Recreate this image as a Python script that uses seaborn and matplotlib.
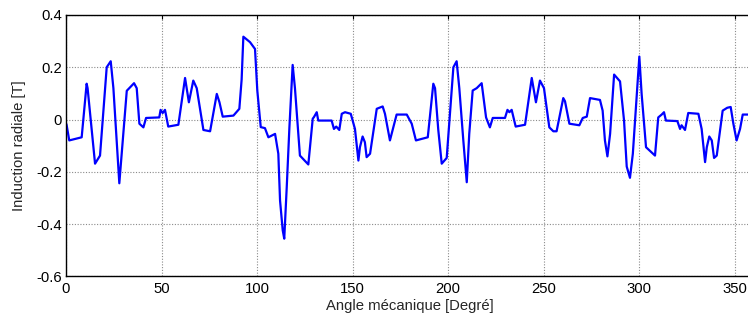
import numpy as np
import pandas as pd
import matplotlib
matplotlib.use("Agg")
import matplotlib.pyplot as plt
import seaborn as sns

# Radial flux density along the air gap (mechanical angle in degrees, induction in tesla)
angle = [0.0, 0.3, 1.7, 8.2, 10.8, 11.3, 15.2, 17.8, 21.3, 23.4, 24.8, 27.9, 31.8, 35.6, 37.0,
         38.4, 40.5, 41.9, 48.8, 49.5, 50.6, 51.8, 53.5, 58.8, 62.3, 64.3, 66.6, 68.4, 71.9,
         75.4, 78.9, 80.3, 82.0, 87.6, 90.7, 91.9, 92.8, 96.3, 98.9, 100.1, 101.9, 104.1, 105.9,
         109.4, 111.1, 112.0, 113.4, 114.2, 115.5, 116.9, 118.6, 119.8, 122.4, 126.8, 129.1,
         129.8, 131.2, 132.0, 139.0, 140.2, 141.4, 143.0, 144.3, 146.0, 149.0, 151.2, 153.0,
         153.8, 155.2, 156.4, 157.3, 159.1, 160.8, 162.6, 165.7, 166.9, 169.5, 171.3, 173.0,
         178.3, 180.9, 183.1, 189.3, 192.2, 193.1, 194.8, 196.6, 199.2, 202.7, 204.4, 205.8,
         207.9, 209.7, 211.0, 212.8, 214.9, 217.5, 219.8, 221.0, 221.8, 223.3, 229.7, 231.0,
         232.0, 233.2, 235.3, 240.2, 243.7, 245.9, 248.0, 250.1, 252.9, 255.0, 256.7, 260.2,
         261.1, 263.4, 268.6, 270.4, 272.5, 274.2, 279.4, 280.8, 282.0, 283.3, 284.7, 286.8,
         289.9, 292.0, 293.4, 295.1, 296.6, 298.6, 300.0, 301.2, 303.5, 308.2, 309.9, 311.7,
         312.9, 313.9, 319.9, 321.3, 322.1, 323.9, 325.6, 330.9, 332.6, 334.4, 335.3, 336.6,
         337.9, 339.1, 340.5, 343.6, 346.0, 347.8, 349.2, 350.9, 352.7, 354.1, 357.0, 360.0]
induction = [-0.015, -0.02, -0.08, -0.068, 0.137, 0.12, -0.169, -0.138, 0.2, 0.223, 0.12, -0.244,
             0.11, 0.139, 0.12, -0.016, -0.03, 0.006, 0.008, 0.037, 0.025, 0.037, -0.027, -0.02,
             0.159, 0.066, 0.149, 0.12, -0.04, -0.045, 0.098, 0.066, 0.011, 0.015, 0.041, 0.153,
             0.317, 0.296, 0.27, 0.111, -0.029, -0.033, -0.068, -0.055, -0.131, -0.31, -0.424,
             -0.456, -0.259, -0.03, 0.209, 0.12, -0.138, -0.172, 0.003, 0.01, 0.028, -0.004,
             -0.004, -0.036, -0.027, -0.04, 0.022, 0.028, 0.022, -0.036, -0.157, -0.106, -0.065,
             -0.087, -0.144, -0.131, -0.048, 0.041, 0.05, 0.022, -0.08, -0.029, 0.019, 0.019,
             -0.016, -0.08, -0.068, 0.137, 0.12, -0.04, -0.169, -0.147, 0.2, 0.223, 0.12, -0.08,
             -0.24, -0.055, 0.111, 0.12, 0.139, 0.008, -0.015, -0.03, 0.006, 0.006, 0.037, 0.028,
             0.037, -0.027, -0.02, 0.159, 0.066, 0.149, 0.12, -0.03, -0.045, -0.045, 0.082, 0.07,
             -0.016, -0.022, 0.006, 0.011, 0.082, 0.075, 0.034, -0.08, -0.141, -0.055, 0.172,
             0.146, -0.004, -0.18, -0.223, -0.131, 0.086, 0.241, 0.098, -0.106, -0.138, 0.008,
             0.019, 0.028, -0.004, -0.006, -0.036, -0.022, -0.04, 0.025, 0.022, -0.036, -0.163,
             -0.106, -0.065, -0.08, -0.147, -0.138, 0.034, 0.045, 0.048, -0.016, -0.08, -0.036,
             0.019, 0.019, 0.019]

x_ticks = [0, 50, 100, 150, 200, 250, 300, 350]
y_ticks = [-0.6, -0.4, -0.2, 0, 0.2, 0.4]
y_tick_labels = ["-0.6", "-0.4", "-0.2", "0", "0.2", "0.4"]

sns.set_style("white")
plt.rcParams["font.family"] = ["Liberation Sans", "DejaVu Sans"]

df = pd.DataFrame({"angle": angle, "induction": induction})

fig = plt.figure(figsize=(7.48, 3.2), dpi=100)
ax = fig.add_axes([66 / 748, 43.7 / 320, 688 / 748, 261.3 / 320])

sns.lineplot(data=df, x="angle", y="induction", ax=ax, color="#0000FF",
             linewidth=1.6, sort=False, estimator=None)

ax.set_xlim(0, 360)
ax.set_ylim(-0.6, 0.4)
ax.set_xticks(x_ticks)
ax.set_yticks(y_ticks)
ax.set_yticklabels(y_tick_labels)
ax.tick_params(direction="in", length=3, width=0.8, labelsize=10.7, colors="black",
               top=True, right=False)
ax.tick_params(axis="x", pad=4)
ax.tick_params(axis="y", pad=3)
ax.grid(True, linestyle=(0, (1, 1.5)), color="#8a8a8a", linewidth=0.8)
for side in ["left", "bottom", "top"]:
    ax.spines[side].set_color("black")
    ax.spines[side].set_linewidth(1.0)
ax.spines["right"].set_visible(False)

ax.set_xlabel("Angle mécanique [Degré]", fontsize=10.7, labelpad=2)
ax.set_ylabel("Induction radiale [T]", fontsize=10.7, labelpad=7)

fig.savefig("out.png", dpi=100)
